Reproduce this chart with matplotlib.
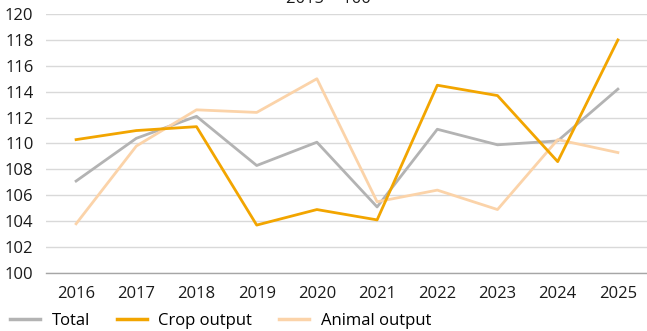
import matplotlib
matplotlib.use("Agg")
import matplotlib.pyplot as plt
from matplotlib.lines import Line2D

plt.rcParams['font.family'] = ['Open Sans', 'DejaVu Sans']

years = ['2016', '2017', '2018', '2019', '2020', '2021', '2022', '2023', '2024', '2025']
total = [107.1, 110.4, 112.1, 108.3, 110.1, 105.1, 111.1, 109.9, 110.2, 114.2]
crop = [110.3, 111.0, 111.3, 103.7, 104.9, 104.1, 114.5, 113.7, 108.6, 118.0]
animal = [103.8, 109.8, 112.6, 112.4, 115.0, 105.5, 106.4, 104.9, 110.3, 109.3]

c_total = '#b3b3b3'
c_crop = '#f2a500'
c_animal = '#fbd3a9'

fig = plt.figure(figsize=(6.47, 3.31), dpi=100)
ax = fig.add_axes([46 / 647, 58 / 331, 602 / 647, 259 / 331])

x = range(len(years))
lw = 2.0
ax.plot(x, total, color=c_total, lw=lw, zorder=3)
ax.plot(x, animal, color=c_animal, lw=lw, zorder=3)
ax.plot(x, crop, color=c_crop, lw=lw, zorder=4)

ax.set_xlim(-0.5, len(years) - 0.5)
ax.set_ylim(100, 120)
ax.set_yticks(range(100, 121, 2))
ax.set_xticks(list(x))
ax.set_xticklabels(years)
ax.grid(axis='y', color='#d9d9d9', lw=1.0, zorder=0)
ax.set_axisbelow(True)
for s in ['top', 'right', 'left']:
    ax.spines[s].set_visible(False)
ax.spines['bottom'].set_color('#a6a6a6')
ax.spines['bottom'].set_linewidth(1.0)
ax.tick_params(length=0, labelsize=12, colors='#1a1a1a')
ax.tick_params(axis='x', pad=9)
ax.tick_params(axis='y', pad=9)

# title sits mostly above the top edge, only its lower part shows
fig.text(328 / 647, 1.0 - 3 / 331, '2015 = 100', ha='center', va='baseline',
         fontsize=12, color='#1a1a1a')

handles = [Line2D([], [], color=c_total, lw=2.5),
           Line2D([], [], color=c_crop, lw=2.5),
           Line2D([], [], color=c_animal, lw=2.5)]
fig.legend(handles, ['Total', 'Crop output', 'Animal output'], loc='lower left',
           bbox_to_anchor=(0.0, -0.025), ncol=3, frameon=False, fontsize=12,
           handlelength=1.8, handletextpad=0.7, columnspacing=1.6,
           borderaxespad=0.2)

fig.savefig('out.png', dpi=100)
